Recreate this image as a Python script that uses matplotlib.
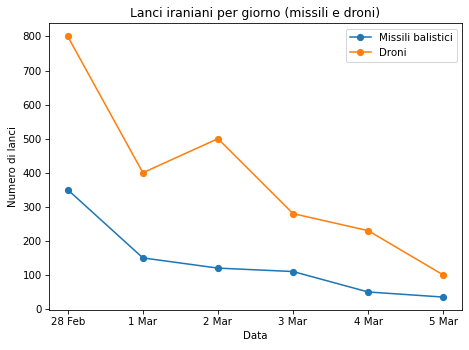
import matplotlib
matplotlib.use("Agg")
import matplotlib.pyplot as plt

giorni = ["28 Feb", "1 Mar", "2 Mar", "3 Mar", "4 Mar", "5 Mar"]
missili = [350, 150, 120, 110, 50, 35]
droni = [800, 400, 500, 280, 230, 100]

fig, ax = plt.subplots(figsize=(469 / 74, 350 / 74), dpi=74)
ax.plot(giorni, missili, marker="o", label="Missili balistici")
ax.plot(giorni, droni, marker="o", label="Droni")
ax.set_title("Lanci iraniani per giorno (missili e droni)")
ax.set_xlabel("Data")
ax.set_ylabel("Numero di lanci")
ax.legend()
fig.subplots_adjust(left=0.1045, right=0.985, top=0.933, bottom=0.114)
fig.savefig("out.png")
